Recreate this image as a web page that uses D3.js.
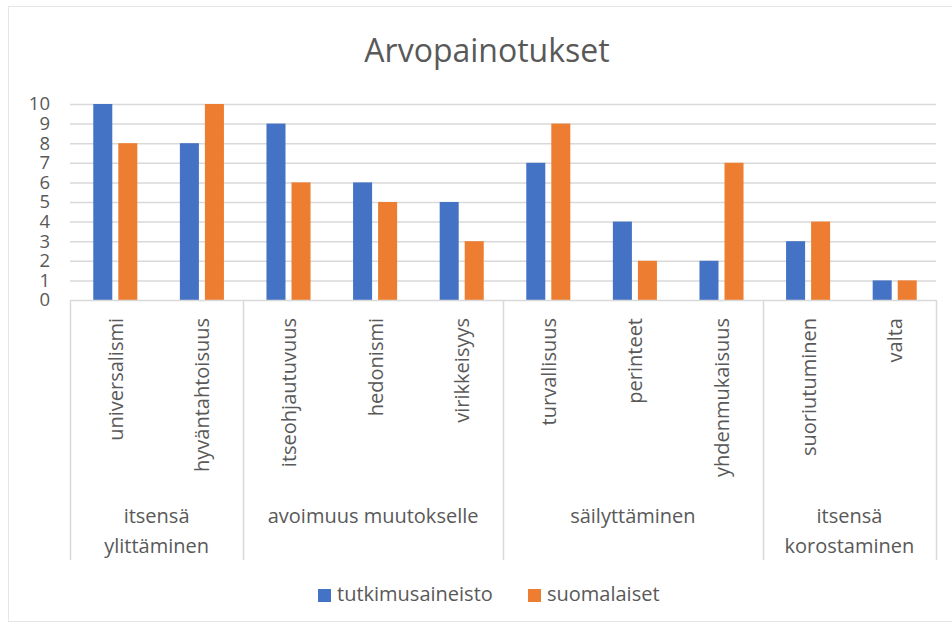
<!DOCTYPE html>
<html><head><meta charset="utf-8">
<script src="https://cdn.jsdelivr.net/npm/d3@7"></script>
<style>body{margin:0;background:#fff}svg{display:block}text{font-family:"Open Sans","Noto Sans",sans-serif}</style>
</head><body><svg id="c" width="952" height="628"></svg>
<script>
const categories = ["universalismi","hyväntahtoisuus","itseohjautuvuus","hedonismi","virikkeisyys","turvallisuus","perinteet","yhdenmukaisuus","suoriutuminen","valta"];
const groups = [
  {lines:["itsensä","ylittäminen"], count:2},
  {lines:["avoimuus muutokselle"], count:3},
  {lines:["säilyttäminen"], count:3},
  {lines:["itsensä","korostaminen"], count:2}
];
const seriesNames = ["tutkimusaineisto","suomalaiset"];
const tutkimusaineisto = [10,8,9,6,5,7,4,2,3,1];
const suomalaiset = [8,10,6,5,3,9,2,7,4,1];
const yTicks = [0,1,2,3,4,5,6,7,8,9,10];
const colors = ["#4472C4","#ED7D31"];

const svg = d3.select("#c");
const L=70, R=936, T=104, B=300;
svg.append("rect").attr("x",8.5).attr("y",6.5).attr("width",960).attr("height",615).attr("fill","#fff").attr("stroke","#e6e6e6");

const x = d3.scaleBand().domain(categories).range([L,R]);
const x1 = d3.scaleBand().domain(seriesNames).range([0,x.bandwidth()]).paddingInner(0.24).paddingOuter(0.85);
const y = d3.scaleLinear().domain([0,10]).range([B,T]);

svg.append("text").attr("x",487).attr("y",62).attr("text-anchor","middle").attr("font-size",32).attr("fill","#595959").text("Arvopainotukset");

// grid
svg.append("g").selectAll("line").data(yTicks.filter(d=>d>0)).join("line")
  .attr("x1",L).attr("x2",R).attr("y1",d=>y(d)+0.5).attr("y2",d=>y(d)+0.5).attr("stroke","#d9d9d9").attr("stroke-width",1.5);

const yAxis = svg.append("g").attr("transform",`translate(${L},0)`).call(d3.axisLeft(y).tickValues(yTicks).tickSize(0).tickPadding(20));
yAxis.select(".domain").remove();
yAxis.selectAll("text").attr("font-size",18.5).attr("fill","#595959").attr("font-family","Open Sans");

const data = categories.map((c,i)=>({c, vals:[tutkimusaineisto[i],suomalaiset[i]]}));
svg.append("g").selectAll("g").data(data).join("g").attr("transform",d=>`translate(${x(d.c)+2},0)`)
  .selectAll("rect").data(d=>d.vals.map((v,j)=>({v,s:seriesNames[j],j}))).join("rect")
  .attr("x",d=>x1(d.s)).attr("width",x1.bandwidth()).attr("y",d=>y(d.v)).attr("height",d=>y(0)-y(d.v)).attr("fill",d=>colors[d.j]);

// axis line
svg.append("line").attr("x1",L).attr("x2",R).attr("y1",B+0.5).attr("y2",B+0.5).attr("stroke","#d9d9d9").attr("stroke-width",1.5);

// category labels
svg.append("g").selectAll("text").data(categories).join("text")
  .attr("transform",d=>`translate(${x(d)+x.bandwidth()/2+2},318) rotate(-90)`)
  .attr("text-anchor","end").attr("dominant-baseline","central").attr("font-size",20).attr("fill","#595959").text(d=>d);

// group separators and labels
let idx=0;
const bounds=[0];
groups.forEach(g=>{idx+=g.count;bounds.push(idx);});
const bx = i => i<categories.length ? x(categories[i]) : R;
svg.append("g").selectAll("line").data(bounds).join("line")
  .attr("x1",d=>Math.round(bx(d))+0.5).attr("x2",d=>Math.round(bx(d))+0.5).attr("y1",B).attr("y2",560).attr("stroke","#d9d9d9").attr("stroke-width",1.5);
groups.forEach((g,gi)=>{
  const cx=(bx(bounds[gi])+bx(bounds[gi+1]))/2;
  g.lines.forEach((ln,li)=>{
    svg.append("text").attr("x",cx).attr("y",523+li*30).attr("text-anchor","middle").attr("font-size",20).attr("fill","#595959").text(ln);
  });
});

// legend
const leg = svg.append("g");
const legX=[318,528];
seriesNames.forEach((s,i)=>{
  leg.append("rect").attr("x",legX[i]).attr("y",589).attr("width",13).attr("height",13).attr("fill",colors[i]);
  leg.append("text").attr("x",legX[i]+19).attr("y",601).attr("font-size",20).attr("fill","#595959").text(s);
});
</script></body></html>
